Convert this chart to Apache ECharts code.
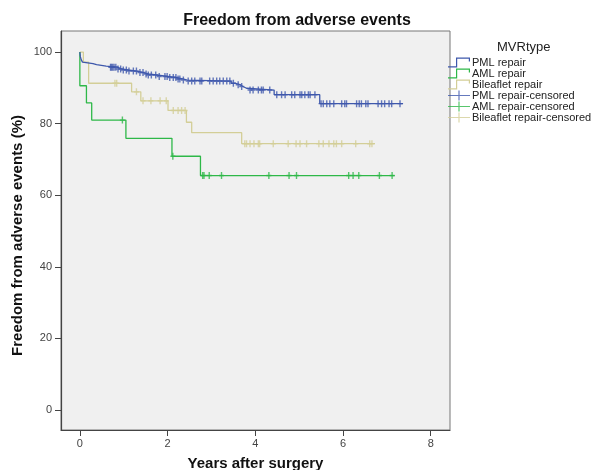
<!DOCTYPE html>
<html><head><meta charset="utf-8">
<script src="https://cdn.jsdelivr.net/npm/echarts@6/dist/echarts.min.js"></script>
<style>html,body{margin:0;padding:0;background:#fff}#c{width:594px;height:470px}</style>
</head><body><div id="c"></div>
<script>
// ---- data ----
const xTicks = [0, 2, 4, 6, 8];
const yTicks = [0, 20, 40, 60, 80, 100];
const groupNames = ['PML repair', 'AML repair', 'Bileaflet repair'];

// Kaplan-Meier steps: [time (years), freedom (%)]
const pmlSteps = [[0,100],[0.01,98.8],[0.03,97.9],[0.06,97.2],[0.1,96.8],[0.3,96.5],[0.38,96.1],[0.6,95.8],[0.85,95.3],[0.95,95.0],[1.1,94.7],[1.3,94.3],[1.45,93.9],[1.55,93.6],[1.75,93.2],[2.0,92.9],[2.2,92.5],[2.35,92.2],[2.45,91.9],[3.45,91.3],[3.55,90.9],[3.65,90.4],[3.72,89.9],[3.8,89.4],[4.43,88.1],[5.47,85.6],[7.37,85.6]];
const amlSteps = [[0,100],[0,90.6],[0.15,85.8],[0.27,81.0],[1.05,75.9],[2.1,70.9],[2.75,65.5],[7.18,65.5]];
const bilSteps = [[0,100],[0.08,97.2],[0.2,91.3],[1.18,88.9],[1.39,86.4],[2.01,83.7],[2.43,80.4],[2.55,77.5],[3.69,74.4],[6.73,74.4]];

// censored times (years)
const pmlCensored = [0.70,0.72,0.75,0.78,0.82,0.87,0.93,0.99,1.06,1.12,1.22,1.29,1.37,1.44,1.51,1.56,1.63,1.73,1.81,1.94,1.99,2.05,2.13,2.19,2.24,2.28,2.36,2.47,2.55,2.62,2.74,2.78,2.96,3.04,3.12,3.19,3.27,3.35,3.42,3.50,3.61,3.69,3.88,3.95,4.07,4.14,4.18,4.33,4.49,4.60,4.68,4.83,4.90,5.02,5.06,5.13,5.21,5.25,5.36,5.50,5.55,5.63,5.70,5.79,5.97,6.04,6.08,6.31,6.37,6.42,6.52,6.57,6.80,6.88,6.95,7.05,7.11,7.30];
const amlCensored = [0.97,2.12,2.80,2.83,2.95,3.23,4.31,4.77,4.94,6.13,6.23,6.36,6.83,7.12];
const bilCensored = [0.80,0.84,1.29,1.44,1.62,1.83,1.97,2.13,2.24,2.32,2.40,3.76,3.80,3.88,3.97,4.07,4.10,4.41,4.75,4.93,5.02,5.17,5.45,5.55,5.68,5.79,5.85,5.97,6.29,6.61,6.66];

const colors = ['#3E58AC', '#2EB848', '#D3CE97'];

// ---- build ----
function survAt(steps, t) {
  let v = steps[0][1];
  for (const s of steps) { if (s[0] <= t) v = s[1]; }
  return v;
}
const stepsList = [pmlSteps, amlSteps, bilSteps];
const censList = [pmlCensored, amlCensored, bilCensored];
const FONT = 'Liberation Sans';
const plusPath = 'path://M1.8,0h1.4v7h-1.4zM0,2.8h5v1.4h-5z';
const stepIcon = 'path://M0,8.8H8V0H22V4H20.8V1.2H9.2V10H0Z';
const censIcon = 'path://M0,4.4H22V5.6H0ZM10.4,0H11.6V10H10.4Z';

const series = [];
groupNames.forEach((n, i) => {
  series.push({
    name: n, type: 'line', step: 'end', data: stepsList[i], showSymbol: false,
    lineStyle: { color: colors[i], width: 1.3 }, itemStyle: { color: colors[i] },
    z: 3 - i, animation: false
  });
});
groupNames.forEach((n, i) => {
  series.push({
    name: n + '-censored', type: 'scatter',
    data: censList[i].map(t => [t, survAt(stepsList[i], t)]),
    symbol: plusPath, symbolSize: [5, 7],
    itemStyle: { color: colors[i] }, z: 6 - i, animation: false
  });
});

const legendData = groupNames.map(n => ({ name: n, icon: stepIcon }))
  .concat(groupNames.map(n => ({ name: n + '-censored', icon: censIcon })));

const chart = echarts.init(document.getElementById('c'), null, { renderer: 'canvas' });
chart.setOption({
  backgroundColor: '#ffffff',
  animation: false,
  title: [
    { text: 'Freedom from adverse events', left: 'center', top: 8,
      textStyle: { fontFamily: FONT, fontSize: 16, fontWeight: 'bold', color: '#111' } },
    { text: 'MVRtype', left: 492, top: 36,
      textStyle: { fontFamily: FONT, fontSize: 13, fontWeight: 'normal', color: '#222' } }
  ],
  legend: {
    orient: 'vertical', left: 448, top: 57, padding: 0, itemGap: 0,
    itemWidth: 22, itemHeight: 10, selectedMode: false,
    textStyle: { fontFamily: FONT, fontSize: 11, lineHeight: 11, color: '#222', padding: [0, 0, 0, -3] },
    data: legendData
  },
  grid: {
    left: 61, top: 31, right: 144, bottom: 40, show: true, outerBoundsMode: 'none', containLabel: false,
    backgroundColor: '#f0f0f0', borderColor: '#777', borderWidth: 1
  },
  xAxis: {
    type: 'value', min: -0.43, max: 8.44,
    axisLine: { onZero: false, lineStyle: { color: '#444', width: 1.2 } },
    axisTick: { customValues: xTicks, length: 6, lineStyle: { color: '#444' } },
    axisLabel: { customValues: xTicks, margin: 8, color: '#444', fontSize: 11, fontFamily: FONT },
    splitLine: { show: false },
    name: 'Years after surgery', nameLocation: 'middle', nameGap: 26, nameMoveOverlap: false,
    nameTextStyle: { fontFamily: FONT, fontSize: 15, fontWeight: 'bold', color: '#111' }
  },
  yAxis: {
    type: 'value', min: -5.6, max: 105.9,
    axisLine: { onZero: false, lineStyle: { color: '#444', width: 1.2 } },
    axisTick: { customValues: yTicks, length: 6, lineStyle: { color: '#444' } },
    axisLabel: { customValues: yTicks, margin: 9, color: '#444', fontSize: 11, fontFamily: FONT },
    splitLine: { show: false },
    name: 'Freedom from adverse events (%)', nameLocation: 'middle', nameGap: 36, nameMoveOverlap: false,
    nameTextStyle: { fontFamily: FONT, fontSize: 15, fontWeight: 'bold', color: '#111', padding: [0, 10, 0, 0] }
  },
  series: series
});
</script></body></html>
